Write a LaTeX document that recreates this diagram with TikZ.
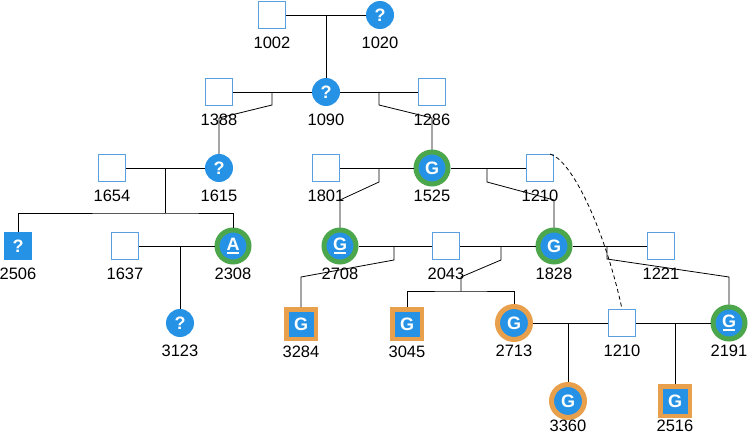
\documentclass[tikz,border=0pt]{standalone}
\usepackage{fontspec}
\setmainfont{Liberation Sans}
\definecolor{fillblue}{HTML}{2592E6}
\definecolor{sqblue}{HTML}{5AA0E0}
\definecolor{ringgreen}{HTML}{4CA64C}
\definecolor{ringorange}{HTML}{E9A04C}
\newcommand\glyphfont{\fontsize{18}{18}\selectfont\bfseries}
\newcommand\lblfont{\fontsize{16.5}{16.5}\selectfont}
\newcommand\ulglyph[1]{\shortstack{#1\\[-1pt]\rule{12pt}{2pt}}}
\tikzset{
    person/.style={inner sep=0pt, text=white, font=\glyphfont},
    plain/.style={person, rectangle, draw=sqblue, fill=white, line width=1pt, minimum size=27},
    unk/.style={person, circle, fill=fillblue, minimum size=28},
    unkbox/.style={person, rectangle, fill=fillblue, minimum size=28},
    gring/.style={person, circle, fill=fillblue, draw=ringgreen, line width=5, minimum size=32},
    oring/.style={person, circle, fill=fillblue, draw=ringorange, line width=5, minimum size=33},
    obox/.style={person, rectangle, fill=fillblue, draw=ringorange, line width=4.5, minimum size=29.5},
    lbl/.style={font=\lblfont, text=black, yshift=-28pt, inner sep=0pt},
    lowlbl/.style={lbl, yshift=3pt},
    link/.style={line width=0.8pt},
}
\begin{document}
\begin{tikzpicture}[x=1pt, y=-1pt]
    \useasboundingbox (0,0) rectangle (748,436);
    % row 0
    \node[plain, label={[lbl]center:1002}] (n1002) at (272,15) {};
    \node[unk, label={[lbl]center:1020}] (n1020) at (380,15) {?};
    % row 1
    \node[plain, label={[lbl]center:1388}] (n1388) at (219,92) {};
    \node[unk, label={[lbl]center:1090}] (n1090) at (326,92) {?};
    \node[plain, label={[lbl]center:1286}] (n1286) at (432,92) {};
    % row 2
    \node[plain, label={[lbl]center:1654}] (n1654) at (112,168) {};
    \node[unk, label={[lbl]center:1615}] (n1615) at (219,168) {?};
    \node[plain, label={[lbl]center:1801}] (n1801) at (326,168) {};
    \node[gring, label={[lbl]center:1525}] (n1525) at (432,168) {G};
    \node[plain, label={[lbl]center:1210}] (n1210a) at (540,168) {};
    % row 3
    \node[unkbox, label={[lbl]center:2506}] (n2506) at (18,246) {?};
    \node[plain, label={[lbl]center:1637}] (n1637) at (125,246) {};
    \node[gring, label={[lbl]center:2308}] (n2308) at (233,246) {\ulglyph{A}};
    \node[gring, label={[lbl]center:2708}] (n2708) at (340,246) {\ulglyph{G}};
    \node[plain, label={[lbl]center:2043}] (n2043) at (446,246) {};
    \node[gring, label={[lbl]center:1828}] (n1828) at (554,246) {G};
    \node[plain, label={[lbl]center:1221}] (n1221) at (661,246) {};
    % row 4
    \node[unk, label={[lbl]center:3123}] (n3123) at (180,323) {?};
    \node[obox, label={[lbl]center:3284}] (n3284) at (301,324) {G};
    \node[obox, label={[lbl]center:3045}] (n3045) at (407,324) {G};
    \node[oring, label={[lbl]center:2713}] (n2713) at (514,323) {G};
    \node[plain, label={[lbl]center:1210}] (n1210b) at (622,323) {};
    \node[gring, label={[lbl]center:2191}] (n2191) at (729,323) {\ulglyph{G}};
    % row 5
    \node[oring, label={[lowlbl]center:3360}] (n3360) at (568,401) {G};
    \node[obox, label={[lowlbl]center:2516}] (n2516) at (675,401) {G};

    % junctions on the couple lines
    \coordinate (m1) at (326,15);
    \coordinate (m2) at (272,92);
    \coordinate (m3) at (379,92);
    \coordinate (m4) at (165,168);
    \coordinate (m5) at (379,168);
    \coordinate (m6) at (487,168);
    \coordinate (m7) at (180,246);
    \coordinate (m8) at (394,246);
    \coordinate (m9) at (501,246);
    \coordinate (m10) at (607,246);
    \coordinate (m11) at (568,323);
    \coordinate (m12) at (675,323);
    \coordinate (s1) at (165,213);
    \coordinate (s2) at (461,291);

    % couples
    \draw[link] (n1002) -- (n1020);
    \draw[link] (n1388) -- (n1090);
    \draw[link] (n1090) -- (n1286);
    \draw[link] (n1654) -- (n1615);
    \draw[link] (n1801) -- (n1525);
    \draw[link] (n1525) -- (n1210a);
    \draw[link] (n1637) -- (n2308);
    \draw[link] (n2708) -- (n2043);
    \draw[link] (n2043) -- (n1828);
    \draw[link] (n1828) -- (n1221);
    \draw[link] (n2713) -- (n1210b);
    \draw[link] (n1210b) -- (n2191);

    % children
    \draw[link] (m1) -- (n1090);
    \draw[link] (m2) -- ++(0,13) -- ++(-53,13) -- (n1615);
    \draw[link] (m3) -- ++(0,13) -- ++(53,13) -- (n1525);
    \draw[link] (m4) -- (s1);
    \draw[link] (n2506) |- (s1) -| (n2308);
    \draw[link] (m7) -- (n3123);
    \draw[link] (m5) -- ++(0,14) -- ++(-39,18) -- (n2708);
    \draw[link] (m6) -- ++(0,14) -- ++(67,18) -- (n1828);
    \draw[link] (m8) -- ++(0,14) -- ++(-93,17) -- (n3284);
    \draw[link] (m9) -- ++(0,14) -- ++(-40,17) -- (s2);
    \draw[link] (n3045) |- (s2) -| (n2713);
    \draw[link] (m10) -- ++(0,13) -- ++(122,18) -- (n2191);
    \draw[link] (m11) -- (n3360);
    \draw[link] (m12) -- (n2516);

    % same person
    \draw[link, dash pattern=on 4pt off 3pt]
        ([xshift=-4pt]n1210a.north east) .. controls (572,160) and (605,230) .. (n1210b.north);
\end{tikzpicture}
\end{document}
